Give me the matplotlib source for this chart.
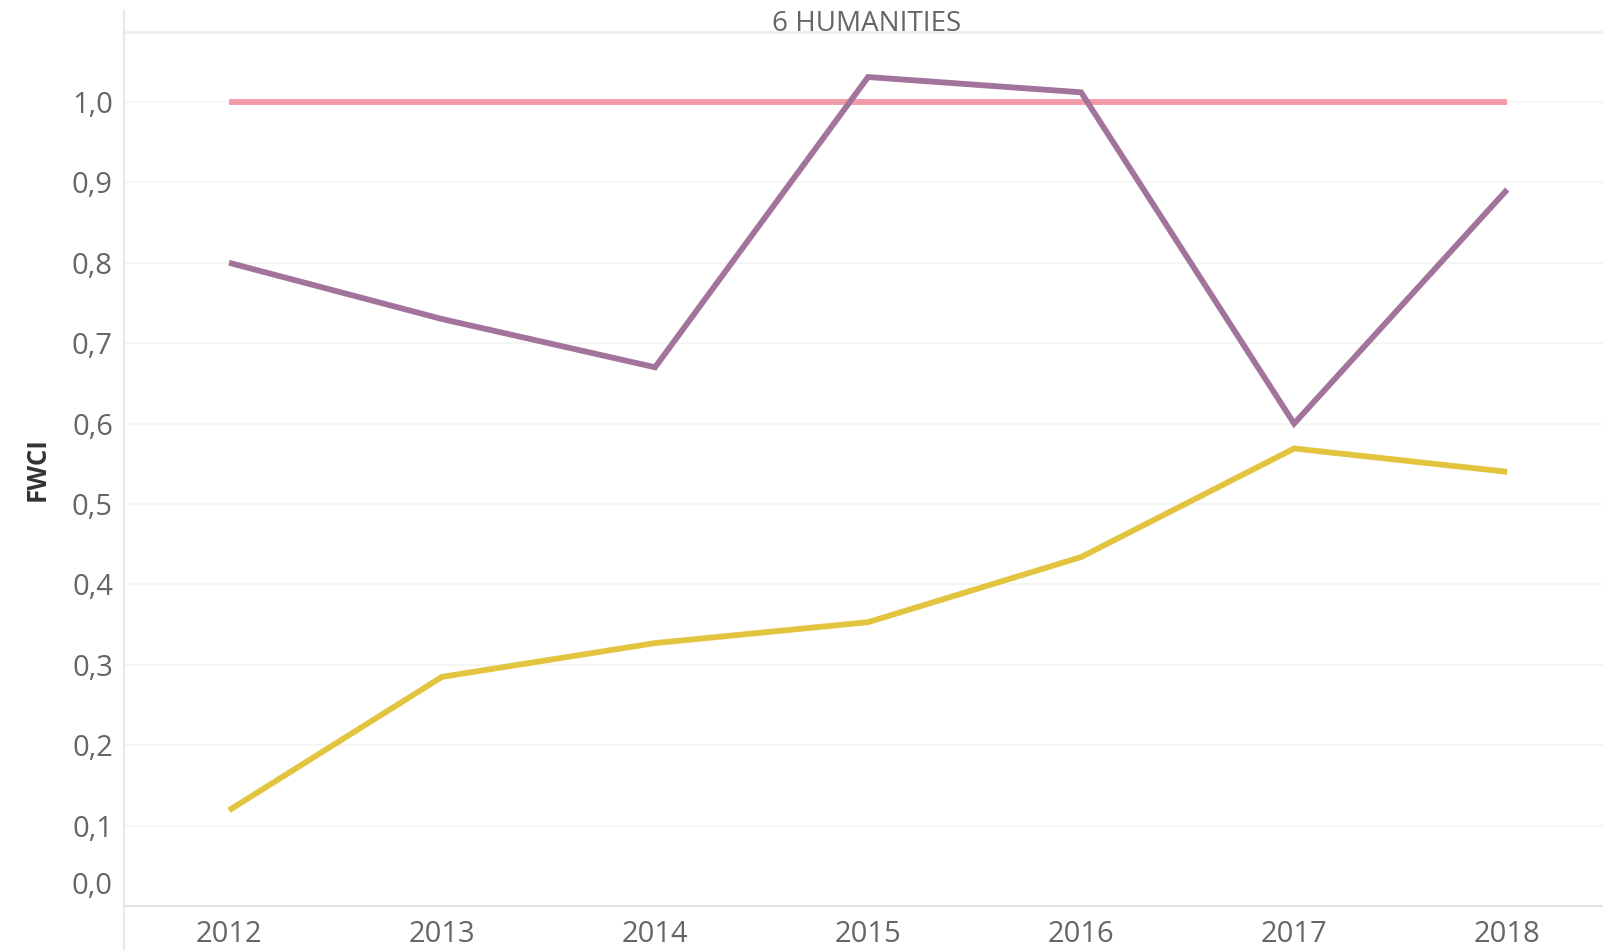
import matplotlib
matplotlib.use("Agg")
import matplotlib.pyplot as plt
from matplotlib.lines import Line2D
from matplotlib.ticker import FixedLocator, FuncFormatter

# ---- data ----
years = [2012, 2013, 2014, 2015, 2016, 2017, 2018]
world_ref = [1.0, 1.0, 1.0, 1.0, 1.0, 1.0, 1.0]
series_purple = [0.80, 0.73, 0.67, 1.031, 1.012, 0.60, 0.891]
series_yellow = [0.119, 0.285, 0.327, 0.353, 0.434, 0.569, 0.540]
y_ticks = [0.0, 0.1, 0.2, 0.3, 0.4, 0.5, 0.6, 0.7, 0.8, 0.9, 1.0]
title = "6 HUMANITIES"
y_label = "FWCI"

W, H, DPI = 1603, 951, 100
fig = plt.figure(figsize=(W / DPI, H / DPI), dpi=DPI)
fig.patch.set_facecolor("white")

left_px, right_px, top_px, bottom_px = 124, 1603, 32, 906
ax = fig.add_axes([left_px / W, 1 - bottom_px / H,
                   (right_px - left_px) / W, (bottom_px - top_px) / H])

font = "Open Sans"
tick_color = "#666666"
tick_size = 21

ax.plot(years, world_ref, color="#f29aa6", lw=4.2, solid_capstyle="butt", zorder=3)
ax.plot(years, series_purple, color="#a2749b", lw=4.2, solid_joinstyle="miter",
        solid_capstyle="butt", zorder=4)
ax.plot(years, series_yellow, color="#e3c43f", lw=4.2, solid_joinstyle="miter",
        solid_capstyle="butt", zorder=4)

ax.set_xlim(2011.507, 2018.45)
ax.set_ylim(0, 1.087)

ax.yaxis.set_major_locator(FixedLocator(y_ticks))
ax.xaxis.set_major_locator(FixedLocator(years))
ax.yaxis.set_major_formatter(FuncFormatter(
    lambda v, p: "" if abs(v) < 1e-9 else f"{v:.1f}".replace(".", ",")))
ax.xaxis.set_major_formatter(FuncFormatter(lambda v, p: f"{int(round(v))}"))

ax.grid(axis="y", color="#f3f3f3", lw=1.2, zorder=0)
ax.grid(axis="x", visible=False)
ax.tick_params(axis="both", length=0, labelsize=tick_size, colors=tick_color)
ax.tick_params(axis="y", pad=8)
ax.tick_params(axis="x", pad=10)
for lab in ax.get_xticklabels() + ax.get_yticklabels():
    lab.set_fontfamily(font)

# the zero label sits shifted up above the bottom axis line
ax.annotate("0,0", xy=(0, 0), xycoords=("axes fraction", "data"),
            xytext=(-8, 14), textcoords="offset points",
            ha="right", va="center", fontsize=tick_size, color=tick_color,
            fontfamily=font)

ax.spines["right"].set_visible(False)
ax.spines["left"].set_visible(False)
ax.spines["bottom"].set_color("#e2e2e2")
ax.spines["bottom"].set_linewidth(1.3)
ax.spines["top"].set_color("#eeeeee")
ax.spines["top"].set_linewidth(2.0)

# left pane divider spanning beyond the axes
fig.add_artist(Line2D([left_px / W, left_px / W], [0, 1 - 10 / H],
                      transform=fig.transFigure, color="#e6e6e6", lw=1.3))

ax.set_ylabel(y_label, fontsize=18.5, fontweight="bold", color="#333333",
              fontfamily=font)
ax.yaxis.set_label_coords(-73 / (right_px - left_px), 0.5)

fig.text(867 / W, 1 - 24 / H, title, ha="center", va="center",
         fontsize=20, color="#666666", fontfamily=font)

fig.savefig("out.png", dpi=DPI, facecolor="white")
